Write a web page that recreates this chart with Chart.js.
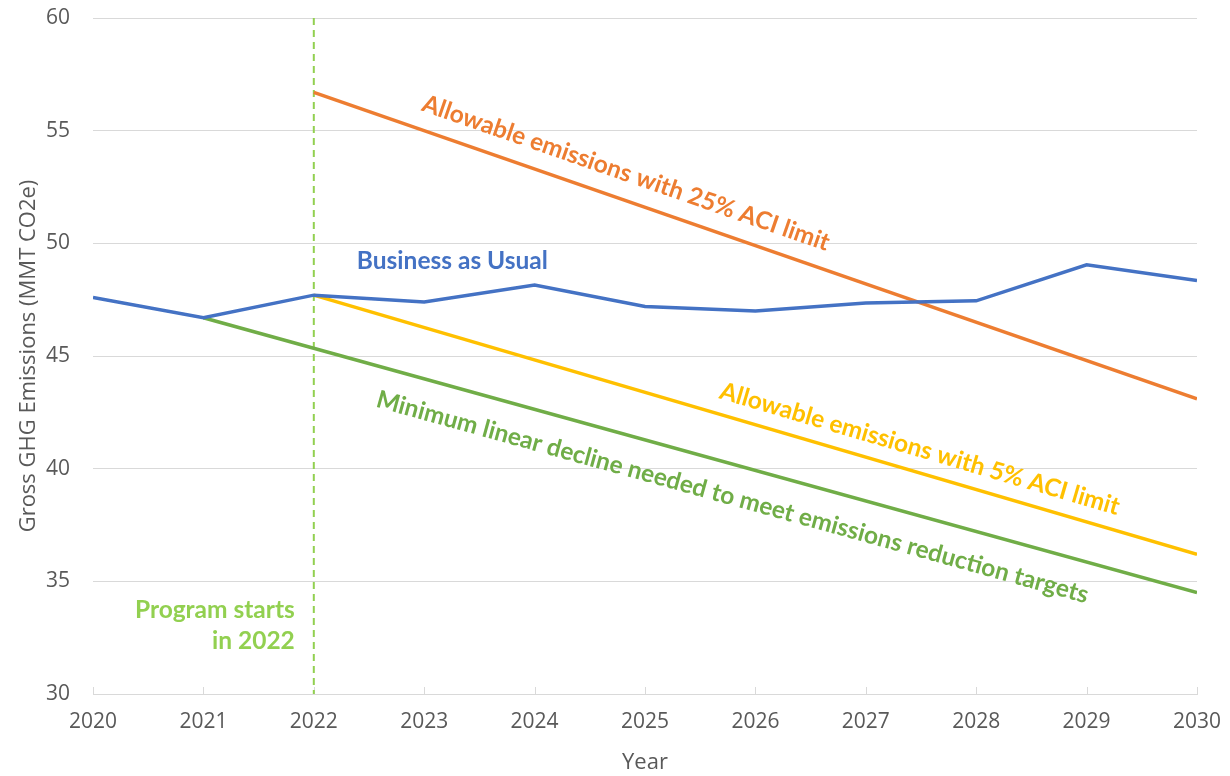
<!DOCTYPE html>
<html>
<head>
<meta charset="utf-8">
<script src="https://cdn.jsdelivr.net/npm/chart.js@4"></script>
<style>
  html, body { margin: 0; padding: 0; background: #fff; }
  #wrap { width: 1230px; height: 776px; }
</style>
</head>
<body>
<div id="wrap"><canvas id="myChart" width="1230" height="776"></canvas></div>
<script>
// data
var years = [2020, 2021, 2022, 2023, 2024, 2025, 2026, 2027, 2028, 2029, 2030];
var businessAsUsual = [47.6, 46.7, 47.7, 47.4, 48.15, 47.2, 47.0, 47.35, 47.45, 49.05, 48.35];

var aci25Years = [2022, 2030];
var aci25Vals = [56.7, 43.1];

var aci5Years = [2022, 2030];
var aci5Vals = [47.7, 36.2];

var minDeclineYears = [2021, 2030];
var minDeclineVals = [46.7, 34.5];

var programStart = 2022;
var yTicks = [30, 35, 40, 45, 50, 55, 60];

function pts(xs, ys) {
  return xs.map(function (x, i) { return { x: x, y: ys[i] }; });
}

const BLUE = '#4472C4', ORANGE = '#ED7D31', YELLOW = '#FFC000', GREEN = '#70AD47', LIGHTGREEN = '#92D050';
const GREY = '#595959';

// labels drawn along the sloped lines (dataset index, year on the line, offset from line)
var lineLabels = [
  { ds: 1, year: 2024.75, off: -26, text: 'Allowable emissions with 25% ACI limit', color: ORANGE },
  { ds: 2, year: 2027.43, off: -23, text: 'Allowable emissions with 5% ACI limit', color: YELLOW },
  { ds: 3, year: 2025.87, off: 32, text: 'Minimum linear decline needed to meet emissions reduction targets', color: GREEN }
];

const annotations = {
  id: 'annotations',
  beforeDatasetsDraw(chart) {
    const ctx = chart.ctx, xs = chart.scales.x, area = chart.chartArea;
    // inward tick marks on the year axis
    ctx.save();
    ctx.strokeStyle = '#d9d9d9';
    ctx.lineWidth = 1;
    years.forEach(function (y) {
      const px = Math.round(xs.getPixelForValue(y)) + 0.5;
      ctx.beginPath();
      ctx.moveTo(px, area.bottom);
      ctx.lineTo(px, area.bottom - 7);
      ctx.stroke();
    });
    // program start marker
    const sx = xs.getPixelForValue(programStart);
    ctx.strokeStyle = LIGHTGREEN;
    ctx.lineWidth = 2;
    ctx.setLineDash([7, 5]);
    ctx.beginPath();
    ctx.moveTo(sx, area.top);
    ctx.lineTo(sx, area.bottom);
    ctx.stroke();
    ctx.restore();
  },
  afterDatasetsDraw(chart) {
    const ctx = chart.ctx, xs = chart.scales.x, ys = chart.scales.y;
    ctx.save();
    ctx.font = 'bold 24.5px Lato';
    ctx.textBaseline = 'middle';

    lineLabels.forEach(function (l) {
      const meta = chart.getDatasetMeta(l.ds).data;
      const a = meta[0], b = meta[meta.length - 1];
      const ang = Math.atan2(b.y - a.y, b.x - a.x);
      const px = xs.getPixelForValue(l.year);
      const py = a.y + (px - a.x) * (b.y - a.y) / (b.x - a.x);
      ctx.save();
      ctx.translate(px, py);
      ctx.rotate(ang);
      ctx.fillStyle = l.color;
      ctx.textAlign = 'center';
      ctx.fillText(l.text, 0, l.off);
      ctx.restore();
    });

    ctx.fillStyle = BLUE;
    ctx.textAlign = 'left';
    ctx.fillText('Business as Usual', xs.getPixelForValue(2022.39), ys.getPixelForValue(49.21));

    ctx.fillStyle = LIGHTGREEN;
    ctx.textAlign = 'right';
    const rx = xs.getPixelForValue(programStart) - 19;
    ctx.fillText('Program starts', rx, ys.getPixelForValue(33.72));
    ctx.fillText('in 2022', rx, ys.getPixelForValue(33.72) + 31);
    ctx.restore();
  }
};

const lineStyle = { borderWidth: 3.5, pointRadius: 0, fill: false, tension: 0 };

const data = {
  datasets: [
    Object.assign({ label: 'Business as Usual', data: pts(years, businessAsUsual), borderColor: BLUE }, lineStyle),
    Object.assign({ label: '25% ACI limit', data: pts(aci25Years, aci25Vals), borderColor: ORANGE }, lineStyle),
    Object.assign({ label: '5% ACI limit', data: pts(aci5Years, aci5Vals), borderColor: YELLOW }, lineStyle),
    Object.assign({ label: 'Minimum linear decline', data: pts(minDeclineYears, minDeclineVals), borderColor: GREEN }, lineStyle)
  ]
};

const config = {
  type: 'line',
  data,
  options: {
    responsive: false,
    animation: false,
    events: [],
    layout: { padding: { top: 18, right: 33, left: 0, bottom: 0 } },
    plugins: { legend: { display: false }, tooltip: { enabled: false } },
    scales: {
      x: {
        type: 'linear',
        min: 2020, max: 2030,
        afterBuildTicks: function (s) { s.ticks = years.map(function (v) { return { value: v }; }); },
        afterFit: function (s) { s.height = 82; s.paddingLeft = 0; s.paddingRight = 0; },
        grid: { display: false, drawTicks: false },
        border: { display: true, color: '#d9d9d9', width: 1 },
        ticks: {
          color: GREY, padding: 15, maxRotation: 0,
          font: { family: 'Open Sans', size: 21 },
          callback: function (v) { return String(v); }
        },
        title: {
          display: true, text: 'Year', color: GREY,
          font: { family: 'Open Sans', size: 22 },
          padding: { top: 2, bottom: 0 }
        }
      },
      y: {
        min: 30, max: 60,
        afterBuildTicks: function (s) { s.ticks = yTicks.map(function (v) { return { value: v }; }); },
        afterFit: function (s) { s.width = 93; s.paddingTop = 0; s.paddingBottom = 0; },
        grid: { color: '#d9d9d9', lineWidth: 1, drawTicks: false },
        border: { display: false },
        ticks: {
          color: GREY, padding: 23,
          font: { family: 'Open Sans', size: 21 }
        },
        title: {
          display: true, text: 'Gross GHG Emissions (MMT CO2e)', color: GREY,
          font: { family: 'Open Sans', size: 22 },
          padding: { top: 16, bottom: 0 }
        }
      }
    }
  },
  plugins: [annotations]
};

const myChart = new Chart(document.getElementById('myChart'), config);
</script>
</body>
</html>
